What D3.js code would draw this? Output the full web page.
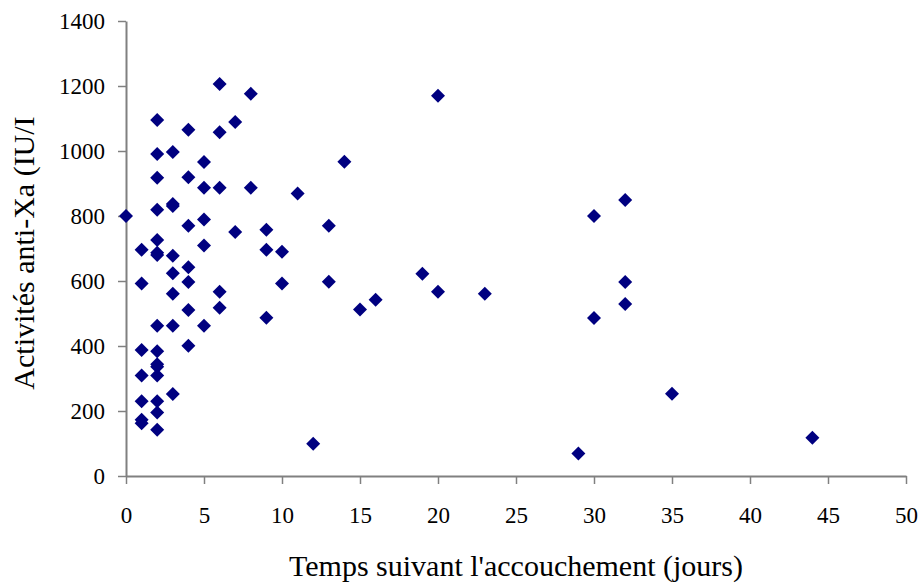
<!DOCTYPE html>
<html>
<head>
<meta charset="utf-8">
<script src="https://cdn.jsdelivr.net/npm/d3@7"></script>
<style>
  body { margin: 0; background: #fff; }
</style>
</head>
<body>
<svg width="918" height="583"></svg>
<script>
// data: days after delivery, anti-Xa activity
const days = [
  0,
  1, 1, 1, 1, 1, 1, 1,
  2, 2, 2, 2, 2, 2, 2, 2, 2, 2, 2, 2, 2, 2, 2,
  3, 3, 3, 3, 3, 3, 3, 3,
  4, 4, 4, 4, 4, 4, 4,
  5, 5, 5, 5, 5,
  6, 6, 6, 6, 6,
  7, 7,
  8, 8,
  9, 9, 9,
  10, 10,
  11, 12, 13, 13, 14, 15, 16, 19,
  20, 20, 23, 29, 30, 30,
  32, 32, 32, 35, 44
];
const antiXa = [
  800,
  696, 592, 388, 309, 230, 173, 162,
  1095, 991, 918, 819, 726, 687, 680, 462, 384, 344, 336, 309, 230, 195, 142,
  997, 837, 831, 678, 624, 561, 462, 252,
  1065, 919, 770, 642, 597, 511, 401,
  966, 887, 789, 709, 462,
  1206, 1058, 887, 567, 518,
  1089, 751,
  1176, 887,
  758, 696, 487,
  690, 592,
  869, 99, 770, 598, 967, 512, 542, 622,
  1170, 567, 561, 69, 800, 486,
  849, 597, 529, 253, 118
];
const xTicks = d3.range(0, 51, 5);
const yTicks = d3.range(0, 1401, 200);

const svg = d3.select('svg');
const font = '"Liberation Serif", "Times New Roman", serif';
const margin = { left: 126, top: 21, right: 12, bottom: 107 };
const width = +svg.attr('width');
const height = +svg.attr('height');

const x = d3.scaleLinear().domain([0, 50]).range([margin.left, width - margin.right]);
const y = d3.scaleLinear().domain([0, 1400]).range([height - margin.bottom, margin.top]);

const axisColor = '#808080';

// y axis
const gy = svg.append('g')
    .attr('transform', `translate(${margin.left},0)`)
    .call(d3.axisLeft(y).tickValues(yTicks).tickFormat(d3.format('d'))
      .tickSize(8).tickSizeOuter(0).tickPadding(13));
// x axis
const gx = svg.append('g')
    .attr('transform', `translate(0,${height - margin.bottom})`)
    .call(d3.axisBottom(x).tickValues(xTicks).tickFormat(d3.format('d'))
      .tickSize(8).tickSizeOuter(0).tickPadding(23));

[gx, gy].forEach(g => {
  g.attr('font-family', null).attr('font-size', null);
  g.select('.domain').attr('stroke', axisColor).attr('stroke-width', 2);
  g.selectAll('.tick line').attr('stroke', axisColor).attr('stroke-width', 1.5);
  g.selectAll('.tick text')
      .style('font-family', font)
      .style('font-size', '23px')
      .attr('fill', '#000');
});

// points
const diamond = d3.symbol().type(d3.symbolSquare).size(98);
svg.append('g').selectAll('path').data(days)
  .enter().append('path')
    .attr('d', diamond)
    .attr('transform', (d, i) => `translate(${x(d)},${y(antiXa[i])}) rotate(45)`)
    .attr('fill', '#000080');

// axis titles
svg.append('text')
    .attr('x', (margin.left + width - margin.right) / 2)
    .attr('y', 576)
    .attr('text-anchor', 'middle')
    .style('font-family', font)
    .style('font-size', '30px')
    .text("Temps suivant l'accouchement (jours)");

svg.append('text')
    .attr('transform', `translate(34,253) rotate(-90)`)
    .attr('text-anchor', 'middle')
    .style('font-family', font)
    .style('font-size', '30px')
    .text('Activités anti-Xa (IU/I');
</script>
</body>
</html>
